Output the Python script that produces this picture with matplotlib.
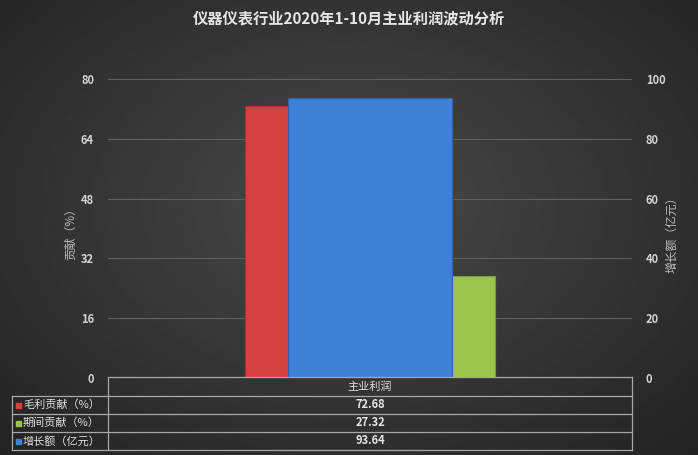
import numpy as np
import matplotlib.pyplot as plt

plt.rcParams['font.family'] = ['Noto Sans CJK SC', 'DejaVu Sans']

title = "仪器仪表行业2020年1-10月主业利润波动分析"
category = "主业利润"
series_names = ["毛利贡献（%）", "期间贡献（%）", "增长额（亿元）"]
maoli = [72.68]
qijian = [27.32]
zengzhang = [93.64]
colors = ["#d64141", "#9cc44b", "#3d80d6"]
left_ticks = [0, 16, 32, 48, 64, 80]
right_ticks = [0, 20, 40, 60, 80, 100]

W, H = 698, 455
fig = plt.figure(figsize=(W / 100, H / 100), dpi=100)

def fx(px):
    return px / W
def fy(py):
    return 1 - py / H

# radial background
bg = fig.add_axes([0, 0, 1, 1], zorder=-10)
yy, xx = np.mgrid[0:1:200j, 0:1:300j]
r = np.sqrt(((xx - 0.5) / 0.75) ** 2 + ((yy - 0.45) / 0.8) ** 2)
bg.imshow(0.29 - 0.16 * np.clip(r, 0, 1), cmap='gray', vmin=0, vmax=1,
          extent=[0, 1, 0, 1], aspect='auto')
bg.axis('off')

ax = fig.add_axes([108 / W, 1 - 378 / H, 524 / W, 299 / H])
ax.patch.set_alpha(0)
ax2 = ax.twinx()
ax2.patch.set_alpha(0)

bw = 0.2385
ax.bar([-bw / 2], maoli, width=bw, color=colors[0], edgecolor="#a83030", linewidth=0.8, zorder=3)
ax.bar([bw / 2], qijian, width=bw, color=colors[1], edgecolor="#7a9a3a", linewidth=0.8, zorder=3)
ax2.bar([0], zengzhang, width=0.313, color=colors[2], edgecolor="#2f64a8", linewidth=0.8, zorder=3)

ax.set_xlim(-0.5, 0.5)
ax2.set_xlim(-0.5, 0.5)
ax.set_ylim(0, 80)
ax2.set_ylim(0, 100)
ax.set_yticks(left_ticks)
ax2.set_yticks(right_ticks)
ax.set_xticks([])
ax.yaxis.grid(True, color="#606060", linewidth=0.8, zorder=0)
ax.set_axisbelow(True)
for a in (ax, ax2):
    for s in a.spines.values():
        s.set_visible(False)
    a.tick_params(axis='y', length=0, colors="#d4d4d4", labelsize=8)
for lab in ax.get_yticklabels() + ax2.get_yticklabels():
    lab.set_fontweight('bold')
ax.tick_params(axis='y', pad=10)
ax2.tick_params(axis='y', pad=10)

# axis titles
fig.text(fx(71), fy(231), "贡献（%）", rotation=90, ha='center', va='center',
         color="#bdbdbd", fontsize=8.5)
fig.text(fx(672), fy(232), "增长额（亿元）", rotation=90, ha='center', va='center',
         color="#bdbdbd", fontsize=8.5)

fig.text(0.5, fy(18), title, ha='center', va='center', color="#e6e6e6",
         fontsize=11, fontweight='bold')

# data table under the chart
lc = "#a8a8a8"
rows_y = [377, 396, 414, 432, 450]
fig.add_artist(plt.Line2D([fx(108), fx(632)], [fy(377), fy(377)], color=lc, lw=0.9))
for y in rows_y[1:]:
    fig.add_artist(plt.Line2D([fx(12), fx(632)], [fy(y), fy(y)], color=lc, lw=0.9))
fig.add_artist(plt.Line2D([fx(108), fx(108)], [fy(377), fy(450)], color=lc, lw=0.9))
fig.add_artist(plt.Line2D([fx(632), fx(632)], [fy(377), fy(450)], color=lc, lw=0.9))
fig.add_artist(plt.Line2D([fx(12), fx(12)], [fy(396), fy(450)], color=lc, lw=0.9))

fig.text(fx(370), fy(386.5), category, ha='center', va='center', color="#e0e0e0", fontsize=8)
values = [maoli[0], qijian[0], zengzhang[0]]
for i, (name, v, c) in enumerate(zip(series_names, values, colors)):
    yc = (rows_y[i + 1] + rows_y[i + 2]) / 2
    fig.add_artist(plt.Rectangle((fx(16), fy(yc + 2.5)), 5 / W, 5 / H, color=c))
    fig.text(fx(23), fy(yc), name, ha='left', va='center', color="#e0e0e0", fontsize=8)
    fig.text(fx(370), fy(yc), "%.2f" % v, ha='center', va='center', color="#e6e6e6",
             fontsize=8, fontweight='bold')

fig.savefig("out.png", dpi=100)
